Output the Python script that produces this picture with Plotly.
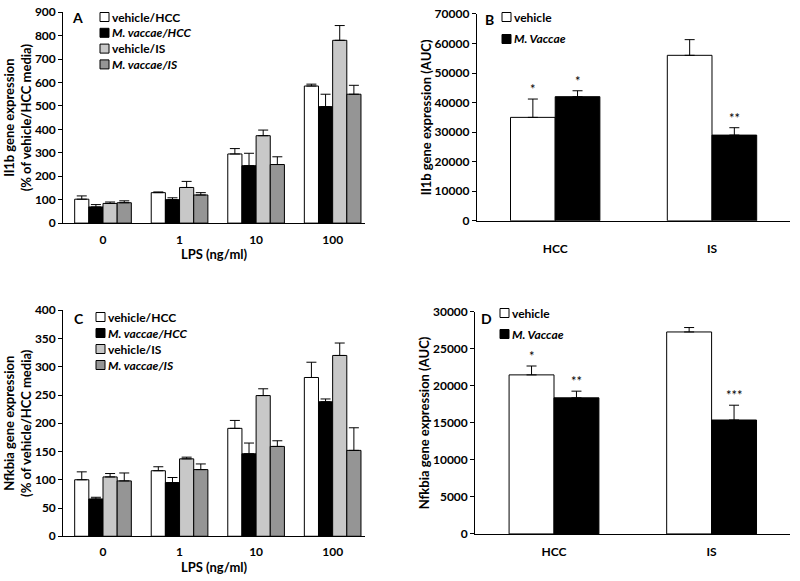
import plotly.graph_objects as go

# ---- data ----
lps_labels = ['0', '1', '10', '100']
group_names = ['vehicle/HCC', '<i>M. vaccae/HCC</i>', 'vehicle/IS', '<i>M. vaccae/IS</i>']

il1b_vals = [[102, 130, 295, 585],
             [69, 100, 245, 497],
             [84, 152, 373, 780],
             [87, 120, 250, 550]]
il1b_err = [[14, 3, 23, 8],
            [10, 8, 53, 53],
            [6, 26, 24, 63],
            [8, 10, 33, 38]]

nfkbia_vals = [[100, 116, 191, 281],
               [66, 95, 146, 238],
               [105, 137, 249, 320],
               [98, 118, 159, 152]]
nfkbia_err = [[14, 7, 14, 27],
              [3, 9, 19, 5],
              [6, 3, 12, 22],
              [14, 10, 10, 40]]

auc_groups = ['HCC', 'IS']
auc_names = ['vehicle', '<i>M. Vaccae</i>']
il1b_auc = [[35000, 56000], [42000, 29000]]
il1b_auc_err = [[6200, 5300], [2000, 2500]]
il1b_auc_stars = [['*', ''], ['*', '**']]
nfkbia_auc = [[21500, 27300], [18400, 15400]]
nfkbia_auc_err = [[1200, 600], [900, 2000]]
nfkbia_auc_stars = [['*', ''], ['**', '***']]

# ---- style ----
colors4 = ['white', 'black', '#c8c8c8', '#959595']
colors2 = ['white', 'black']
FONT = 'Lato'
W, H = 800, 581
w4 = 0.185
w2 = 0.285

fig = go.Figure()


def px(x):
    return x / W


def py(y):
    return 1 - y / H


def add_four(vals, errs, ax):
    for i in range(4):
        fig.add_trace(go.Bar(
            x=list(range(4)), y=vals[i], name=group_names[i], showlegend=False,
            width=w4, offset=-2 * w4 + i * w4,
            marker=dict(color=colors4[i], line=dict(color='black', width=1)),
            error_y=dict(type='data', array=errs[i], arrayminus=[0] * 4, symmetric=False,
                         color='black', thickness=1, width=5),
            xaxis='x' + ax, yaxis='y' + ax))


def add_two(vals, errs, stars, ax):
    for i in range(2):
        fig.add_trace(go.Bar(
            x=list(range(2)), y=vals[i], name=auc_names[i], showlegend=False,
            width=w2, offset=-w2 + i * w2,
            marker=dict(color=colors2[i], line=dict(color='black', width=1)),
            error_y=dict(type='data', array=errs[i], arrayminus=[0] * 2, symmetric=False,
                         color='black', thickness=1, width=5),
            xaxis='x' + ax, yaxis='y' + ax))
        for j in range(2):
            if stars[i][j]:
                fig.add_annotation(x=j - w2 / 2 + i * w2, y=vals[i][j] + errs[i][j],
                                   xref='x' + ax, yref='y' + ax, text=stars[i][j],
                                   showarrow=False, yanchor='bottom', yshift=0,
                                   font=dict(size=13, color='black', family=FONT))


def add_legend(names, colors, x0, y0, step):
    # small boxed squares with text right next to them (Excel style legend)
    for k, (nm, c) in enumerate(zip(names, colors)):
        yc = y0 + k * step
        fig.add_shape(type='rect', xref='paper', yref='paper',
                      x0=px(x0), x1=px(x0 + 9), y0=py(yc - 4.5), y1=py(yc + 4.5),
                      fillcolor=c, line=dict(color='black', width=1))
        fig.add_annotation(text=nm, xref='paper', yref='paper', x=px(x0 + 10), y=py(yc),
                           xanchor='left', yanchor='middle', showarrow=False,
                           font=dict(family=FONT, size=12, color='black', weight='bold'))


add_four(il1b_vals, il1b_err, '')
add_two(il1b_auc, il1b_auc_err, il1b_auc_stars, '2')
add_four(nfkbia_vals, nfkbia_err, '3')
add_two(nfkbia_auc, nfkbia_auc_err, nfkbia_auc_stars, '4')

add_legend(group_names, colors4, 100, 17, 15.8)
add_legend(auc_names, colors2, 502, 17, 22)
add_legend(group_names, colors4, 96, 317, 16)
add_legend(auc_names, colors2, 500, 313, 21)

tickfont = dict(family=FONT, size=12, color='black', weight='bold')
titlefont = dict(family=FONT, size=13, color='black', weight='bold')


def xax(domain, anchor, n, labels, rng, title=None, lab_off=0):
    d = dict(domain=domain, anchor=anchor, tickvals=list(range(n)), ticktext=labels,
             range=rng, showline=True, linecolor='black', linewidth=1, ticks='',
             showgrid=False, zeroline=False, tickfont=tickfont, ticklabelstandoff=lab_off,
             automargin=False)
    if title:
        d['title'] = dict(text=title, font=titlefont, standoff=1)
    return d


def yax(domain, anchor, rng, dtick, title):
    return dict(domain=domain, anchor=anchor, range=rng, dtick=dtick, tickformat='d',
                showline=True, linecolor='black', linewidth=1, ticks='outside',
                ticklen=4, tickcolor='black', showgrid=False, zeroline=False,
                tickfont=tickfont, title=dict(text=title, font=titlefont, standoff=0),
                automargin=False)


fig.update_layout(
    width=W, height=H, margin=dict(l=0, r=0, t=0, b=0),
    plot_bgcolor='white', paper_bgcolor='white', barmode='overlay', showlegend=False,
    xaxis=xax([0.079, 0.456], 'y', 4, lps_labels, [-0.52, 3.42], 'LPS (ng/ml)', 5),
    yaxis=yax([0.616, 0.979], 'x', [0, 900], 100,
              'Il1b gene expression<br>(% of vehicle/HCC media)'),
    xaxis2=xax([0.596, 0.988], 'y2', 2, auc_groups, [-0.5, 1.5], None, 17),
    yaxis2=yax([0.62, 0.976], 'x2', [0, 70000], 10000, 'Il1b gene expression (AUC)'),
    xaxis3=xax([0.079, 0.456], 'y3', 4, lps_labels, [-0.52, 3.42], 'LPS (ng/ml)', 4),
    yaxis3=yax([0.077, 0.466], 'x3', [0, 400], 50,
               'Nfkbia gene expression<br>(% of vehicle/HCC media)'),
    xaxis4=xax([0.594, 0.988], 'y4', 2, auc_groups, [-0.5, 1.5], None, 7),
    yaxis4=yax([0.081, 0.463], 'x4', [0, 30000], 5000, 'Nfkbia gene expression (AUC)'),
)

# panel letters
for letter, lx, ly in [('A', 70, 17), ('B', 483, 19), ('C', 72, 318), ('D', 479, 318)]:
    fig.add_annotation(text=letter, xref='paper', yref='paper', x=px(lx), y=py(ly),
                       xanchor='left', yanchor='middle', showarrow=False,
                       font=dict(family=FONT, size=14, color='black', weight='bold'))

# drop the browser's default page margin so the figure sits at the window corner
fig.write_html('out.html', config={'displayModeBar': False},
               post_script="document.body.style.margin = '0';")
